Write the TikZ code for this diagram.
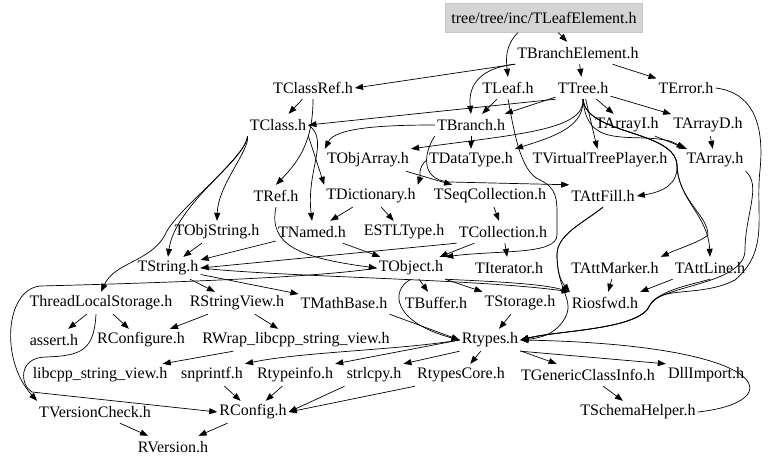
\documentclass[tikz,border=0pt]{standalone}
\usepackage{fontspec}
\setmainfont{Liberation Serif}
\usetikzlibrary{arrows.meta}

\begin{document}
\begin{tikzpicture}[x=1pt,y=-1pt,
  file/.style={inner xsep=2pt,inner ysep=0pt,minimum height=22pt,font=\fontsize{16}{18}\selectfont},
  rootfile/.style={file,fill=black!17,draw=black!22,minimum height=29pt,inner xsep=6pt},
  dep/.style={line width=0.7pt,-{Triangle[length=8pt,width=6pt]}}]
\useasboundingbox (0,0) rectangle (768,466);

\node[rootfile] (tleafelement) at (544,18) {tree/tree/inc/TLeafElement.h};
\node[file] (tbranchelement) at (578,53) {TBranchElement.h};
\node[file] (tclassref) at (313,88) {TClassRef.h};
\node[file] (tleaf) at (508,88) {TLeaf.h};
\node[file] (ttree) at (583,88) {TTree.h};
\node[file] (terror) at (686,88) {TError.h};
\node[file] (tclass) at (278,125) {TClass.h};
\node[file] (tbranch) at (471,125) {TBranch.h};
\node[file] (tarrayi) at (627,125) {TArrayI.h};
\node[file] (tarrayd) at (708,125) {TArrayD.h};
\node[file] (tobjarray) at (368,160) {TObjArray.h};
\node[file] (tdatatype) at (471,160) {TDataType.h};
\node[file] (tvirtualtreeplayer) at (600,160) {TVirtualTreePlayer.h};
\node[file] (tarray) at (715,160) {TArray.h};
\node[file] (tref) at (276,196) {TRef.h};
\node[file] (tdictionary) at (371,196) {TDictionary.h};
\node[file] (tseqcollection) at (490,196) {TSeqCollection.h};
\node[file] (tattfill) at (603,196) {TAttFill.h};
\node[file] (tobjstring) at (217,232) {TObjString.h};
\node[file] (tnamed) at (312,232) {TNamed.h};
\node[file] (estltype) at (404,232) {ESTLType.h};
\node[file] (tcollection) at (503,232) {TCollection.h};
\node[file] (tstring) at (168,268) {TString.h};
\node[file] (tobject) at (411,268) {TObject.h};
\node[file] (titerator) at (509,268) {TIterator.h};
\node[file] (tattmarker) at (615,268) {TAttMarker.h};
\node[file] (tattline) at (710,268) {TAttLine.h};
\node[file] (threadlocalstorage) at (101,303) {ThreadLocalStorage.h};
\node[file] (rstringview) at (237,303) {RStringView.h};
\node[file] (tmathbase) at (344,303) {TMathBase.h};
\node[file] (tbuffer) at (436,303) {TBuffer.h};
\node[file] (tstorage) at (520,303) {TStorage.h};
\node[file] (riosfwd) at (605,303) {Riosfwd.h};
\node[file] (assert) at (54,340) {assert.h};
\node[file] (rconfigure) at (141,340) {RConfigure.h};
\node[file] (rwrap) at (296,340) {RWrap\_libcpp\_string\_view.h};
\node[file] (rtypes) at (490,340) {Rtypes.h};
\node[file] (libcpp) at (100,375) {libcpp\_string\_view.h};
\node[file] (snprintf) at (212,375) {snprintf.h};
\node[file] (rtypeinfo) at (295,375) {Rtypeinfo.h};
\node[file] (strlcpy) at (374,375) {strlcpy.h};
\node[file] (rtypescore) at (461,375) {RtypesCore.h};
\node[file] (tgenericclassinfo) at (588,375) {TGenericClassInfo.h};
\node[file] (dllimport) at (706,375) {DllImport.h};
\node[file] (tversioncheck) at (95,412) {TVersionCheck.h};
\node[file] (rconfig) at (253,412) {RConfig.h};
\node[file] (tschemahelper) at (638,412) {TSchemaHelper.h};
\node[file] (rversion) at (173,447) {RVersion.h};

% top rows
\draw[dep] (tleafelement) -- (tbranchelement);
\draw[dep] ([xshift=-26pt]tleafelement.south) .. controls (505,45) and (506,60) .. (tleaf.north);
\draw[dep] (tbranchelement.south west) -- (tclassref.east);
\draw[dep] (tbranchelement.south west) .. controls (480,68) and (468,85) .. (tbranch.north);
\draw[dep] (tbranchelement) -- (ttree);
\draw[dep] (tbranchelement) -- (terror);
\draw[dep] (tclassref) -- (tclass);
\draw[dep] (ttree.south west) -- (tclass.east);
\draw[dep] (ttree) -- (tbranch);
\draw[dep] (tleaf) -- (tbranch);
\draw[dep] (ttree) -- (tarrayi);
\draw[dep] (ttree) -- (tarrayd);
\draw[dep] (ttree) -- (tvirtualtreeplayer);
\draw[dep] (ttree.south) .. controls (585,130) and (520,134) .. (tobjarray.north east);
\draw[dep] (ttree.south) .. controls (584,125) and (560,135) .. (tdatatype.north east);
\draw[dep] (ttree.south) .. controls (586,138) and (610,137) .. (645,138) .. controls (665,139) and (672,141) .. (tarray.north west);
\draw[dep] (tarrayd) -- (tarray);
\draw[dep] (tarrayi) -- (tarray);
\draw[dep] (ttree.south) .. controls (586,135) and (675,130) .. (677,165) .. controls (678,185) and (662,192) .. (tattfill.east);
\draw[dep] (ttree.south) .. controls (586,135) and (675,130) .. (677,165) .. controls (678,200) and (708,215) .. (tattline.north);
\draw[dep] (ttree.south) .. controls (586,135) and (675,130) .. (677,165) .. controls (678,200) and (708,215) .. (708,235) .. controls (700,242) and (680,248) .. (tattmarker.north east);
\draw[dep] (tbranch.west) .. controls (380,125) and (335,128) .. (tobjarray.north west);
\draw[dep] (tbranch) -- (tdatatype);
\draw[dep] (tbranch.south west) .. controls (425,150) and (418,180) .. (450,182) -- (tattfill.north west);
\draw[dep] (tleaf.south) .. controls (514,130) and (520,172) .. (540,180) .. controls (557,188) and (557,200) .. (557,215) -- (557,235) .. controls (557,255) and (500,250) .. (tobject.north east);

% middle rows
\draw[dep] (tclassref.south) .. controls (313,140) and (300,160) .. (tref.north);
\draw[dep] (tclass.east) .. controls (330,140) and (306,170) .. (tnamed.north);
\draw[dep] (tclass.south east) -- (tdictionary.north west);
\draw[dep] (tclass.south west) .. controls (250,150) and (218,185) .. (tobjstring.north);
\draw[dep] (tclass.south west) .. controls (245,160) and (175,205) .. (tstring.north);
\draw[dep] (tclass.south west) .. controls (245,160) and (175,210) .. (165,235) .. controls (150,262) and (115,262) .. (threadlocalstorage.north);
\draw[dep] (tobjarray) -- (tseqcollection);
\draw[dep] (tdatatype.west) .. controls (418,166) and (420,178) .. (tdictionary.north east);
\draw[dep] (tseqcollection) -- (tcollection);
\draw[dep] (tdictionary) -- (tnamed);
\draw[dep] (tdictionary) -- (estltype);
\draw[dep] (tcollection) -- (titerator);
\draw[dep] (tcollection) -- (tobject);
\draw[dep] (tcollection.south west) -- (tstring.east);
\draw[dep] (tobjstring) -- (tstring);
\draw[dep] (tnamed) -- (tstring);
\draw[dep] (tnamed) -- (tobject);
\draw[dep] (tref.south) .. controls (268,245) and (300,258) .. (tobject.west);

% right side
\draw[dep] (terror.east) .. controls (750,92) and (765,120) .. (760,170) .. controls (755,215) and (770,250) .. (735,280) .. controls (700,298) and (660,285) .. (650,305) .. controls (640,330) and (560,330) .. (rtypes.east);
\draw[dep] (tarray.south east) .. controls (762,185) and (745,215) .. (745,250) .. controls (745,285) and (660,285) .. (650,305) .. controls (640,330) and (560,330) .. (rtypes.east);
\draw[dep] (tattline.south) .. controls (690,285) and (660,290) .. (650,305) .. controls (640,330) and (560,330) .. (rtypes.east);
\draw[dep] (tattline.south west) -- (riosfwd.north east);
\draw[dep] (tattmarker) -- (riosfwd);
\draw[dep] (tattfill.south) .. controls (580,225) and (557,235) .. (557,255) .. controls (557,270) and (560,280) .. (riosfwd.north west);
\draw[dep] (tattfill.south) .. controls (580,225) and (557,235) .. (557,255) .. controls (557,290) and (575,300) .. (565,318) .. controls (555,335) and (540,338) .. (rtypes.east);

% lower rows
\draw[dep] (tstring) -- (tmathbase);
\draw[dep] (tstring) -- (rstringview);
\draw[dep] (tstring.east) .. controls (280,277) and (480,279) .. (riosfwd.north west);
\draw[dep] (tobject.south east) .. controls (480,281) and (540,283) .. (riosfwd.north west);
\draw[dep] (tobject.south east) -- (tstorage.north west);
\draw[dep] (tobject) -- (tbuffer);
\draw[dep] (tobject.west) .. controls (330,276) and (200,282) .. (40,286) .. controls (5,290) and (0,360) .. (tversioncheck.north west);
\draw[dep] (tobject.south) .. controls (390,290) and (392,322) .. (rtypes.west);
\draw[dep] (tmathbase.south east) -- (rtypes.west);
\draw[dep] (tstorage) -- (rtypes);
\draw[dep] (threadlocalstorage) -- (assert);
\draw[dep] (threadlocalstorage) -- (rconfigure);
\draw[dep] ([xshift=-5pt]threadlocalstorage.south) .. controls (94,350) and (82,356) .. (45,357) .. controls (18,358) and (20,385) .. (32,392) -- (rconfig.west);
\draw[dep] (rstringview) -- (rconfigure);
\draw[dep] (rstringview) -- (rwrap);
\draw[dep] (rwrap) -- (libcpp);
\draw[dep] (rtypes.west) .. controls (400,350) and (300,352) .. (snprintf.north east);
\draw[dep] (rtypes.west) -- (rtypeinfo.north east);
\draw[dep] (rtypes.south west) -- (strlcpy.north east);
\draw[dep] (rtypes) -- (rtypescore);
\draw[dep] (rtypes) -- (tgenericclassinfo);
\draw[dep] (rtypes.south east) -- (dllimport.north west);
\draw[dep] (tgenericclassinfo) -- (tschemahelper);
\draw[dep] (tschemahelper.east) .. controls (790,402) and (775,345) .. (rtypes.east);
\draw[dep] (snprintf) -- (rconfig);
\draw[dep] (rtypeinfo) -- (rconfig);
\draw[dep] (strlcpy.south west) -- (rconfig.east);
\draw[dep] (rtypescore.south west) -- (rconfig.east);
\draw[dep] (tversioncheck) -- (rversion);
\draw[dep] (rconfig) -- (rversion);

\end{tikzpicture}
\end{document}
